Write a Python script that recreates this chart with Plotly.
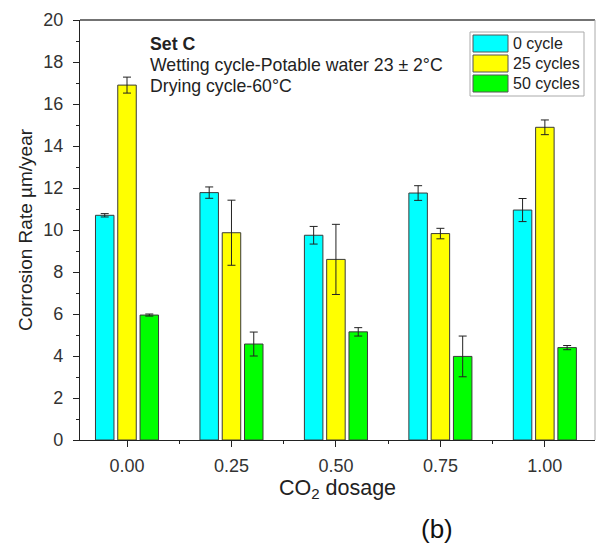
import plotly.graph_objects as go

doses = [0.0, 0.25, 0.5, 0.75, 1.0]
series_names = ["0 cycle", "25 cycles", "50 cycles"]
colors = ["#00FFFF", "#FFFF00", "#00FF00"]
cycle0 = [10.7, 11.78, 9.75, 11.76, 10.95]
cycle0_err = [0.08, 0.27, 0.42, 0.35, 0.55]
cycle25 = [16.9, 9.87, 8.6, 9.83, 14.89]
cycle25_err = [0.38, 1.55, 1.67, 0.25, 0.35]
cycle50 = [5.95, 4.57, 5.15, 3.98, 4.4]
cycle50_err = [0.05, 0.57, 0.2, 0.97, 0.1]

values = [cycle0, cycle25, cycle50]
errors = [cycle0_err, cycle25_err, cycle50_err]

FONT = "Liberation Sans, Arial, sans-serif"

fig = go.Figure()
for name, col, v, e in zip(series_names, colors, values, errors):
    fig.add_trace(go.Bar(
        x=doses, y=v, name=name,
        marker=dict(color=col, line=dict(color="#3a3a3a", width=1)),
        error_y=dict(type="data", array=e, visible=True, color="#222222",
                     thickness=1, width=4),
        showlegend=False,
    ))

shapes = []
annotations = []

# frame lines (top/right)
shapes.append(dict(type="line", xref="paper", yref="paper", x0=0, x1=1, y0=1, y1=1,
                   line=dict(color="#444444", width=1.5)))
shapes.append(dict(type="line", xref="paper", yref="paper", x0=1, x1=1, y0=0, y1=1,
                   line=dict(color="#aaaaaa", width=1)))

# plot area: x 80..595 (515 px), y 20..440 (420 px)
def px_x(p):
    return (p - 80) / 515.0

def px_y(p):
    return (440 - p) / 420.0

# custom legend
shapes.append(dict(type="rect", xref="paper", yref="paper",
                   x0=px_x(470), x1=px_x(584), y0=px_y(96), y1=px_y(32),
                   line=dict(color="#aaaaaa", width=1), fillcolor="white"))
for i, (name, col) in enumerate(zip(series_names, colors)):
    top = 35 + i * 20
    shapes.append(dict(type="rect", xref="paper", yref="paper",
                       x0=px_x(473), x1=px_x(508), y0=px_y(top + 17), y1=px_y(top),
                       line=dict(color="#555555", width=1), fillcolor=col))
    annotations.append(dict(xref="paper", yref="paper", x=px_x(511), y=px_y(top + 8.5),
                            text=name, showarrow=False, xanchor="left", yanchor="middle",
                            font=dict(family=FONT, size=16, color="#222222")))

# text block
TXT = 17.7
annotations.append(dict(xref="paper", yref="paper", x=px_x(148), y=px_y(44),
                        text="<b>Set C</b>", showarrow=False, xanchor="left", yanchor="middle",
                        font=dict(family=FONT, size=TXT, color="#222222")))
annotations.append(dict(xref="paper", yref="paper", x=px_x(148), y=px_y(65),
                        text="Wetting cycle-Potable water 23 ± 2°C", showarrow=False,
                        xanchor="left", yanchor="middle",
                        font=dict(family=FONT, size=TXT, color="#222222")))
annotations.append(dict(xref="paper", yref="paper", x=px_x(148), y=px_y(86),
                        text="Drying cycle-60°C", showarrow=False,
                        xanchor="left", yanchor="middle",
                        font=dict(family=FONT, size=TXT, color="#222222")))
annotations.append(dict(xref="paper", yref="paper", x=px_x(437), y=px_y(529),
                        text="(b)", showarrow=False, xanchor="center", yanchor="middle",
                        font=dict(family=FONT, size=26, color="#111111")))

fig.update_layout(
    width=596, height=546,
    margin=dict(l=80, r=1, t=20, b=106),
    paper_bgcolor="white", plot_bgcolor="white",
    barmode="group", bargap=0.36, bargroupgap=0.17,
    shapes=shapes, annotations=annotations,
    font=dict(family=FONT, color="#222222"),
)
fig.update_xaxes(
    range=[-0.1125, 1.12],
    tickvals=doses, ticktext=[f"{d:.2f}" for d in doses],
    ticks="outside", ticklen=6, tickwidth=1, tickcolor="#222222",
    minor=dict(tickvals=[0.125, 0.375, 0.625, 0.875], ticks="outside", ticklen=3,
               tickcolor="#222222", tickwidth=1),
    showline=True, linecolor="#222222", linewidth=1.2,
    showgrid=False, zeroline=False,
    ticklabelstandoff=3,
    tickfont=dict(family=FONT, size=18, color="#333333"),
    title=dict(text="CO<sub>2</sub> dosage", font=dict(family=FONT, size=21.5, color="#222222"),
               standoff=3),
)
fig.update_yaxes(
    range=[0, 20], dtick=2, tick0=0,
    ticks="outside", ticklen=6, tickwidth=1, tickcolor="#222222",
    minor=dict(dtick=1, ticks="outside", ticklen=3, tickcolor="#222222", tickwidth=1),
    showline=True, linecolor="#222222", linewidth=1.2,
    showgrid=False, zeroline=False,
    ticklabelstandoff=6,
    tickfont=dict(family=FONT, size=18, color="#333333"),
    title=dict(text="Corrosion Rate µm/year", font=dict(family=FONT, size=19, color="#222222"),
               standoff=5),
)

fig.write_html("out.html")
